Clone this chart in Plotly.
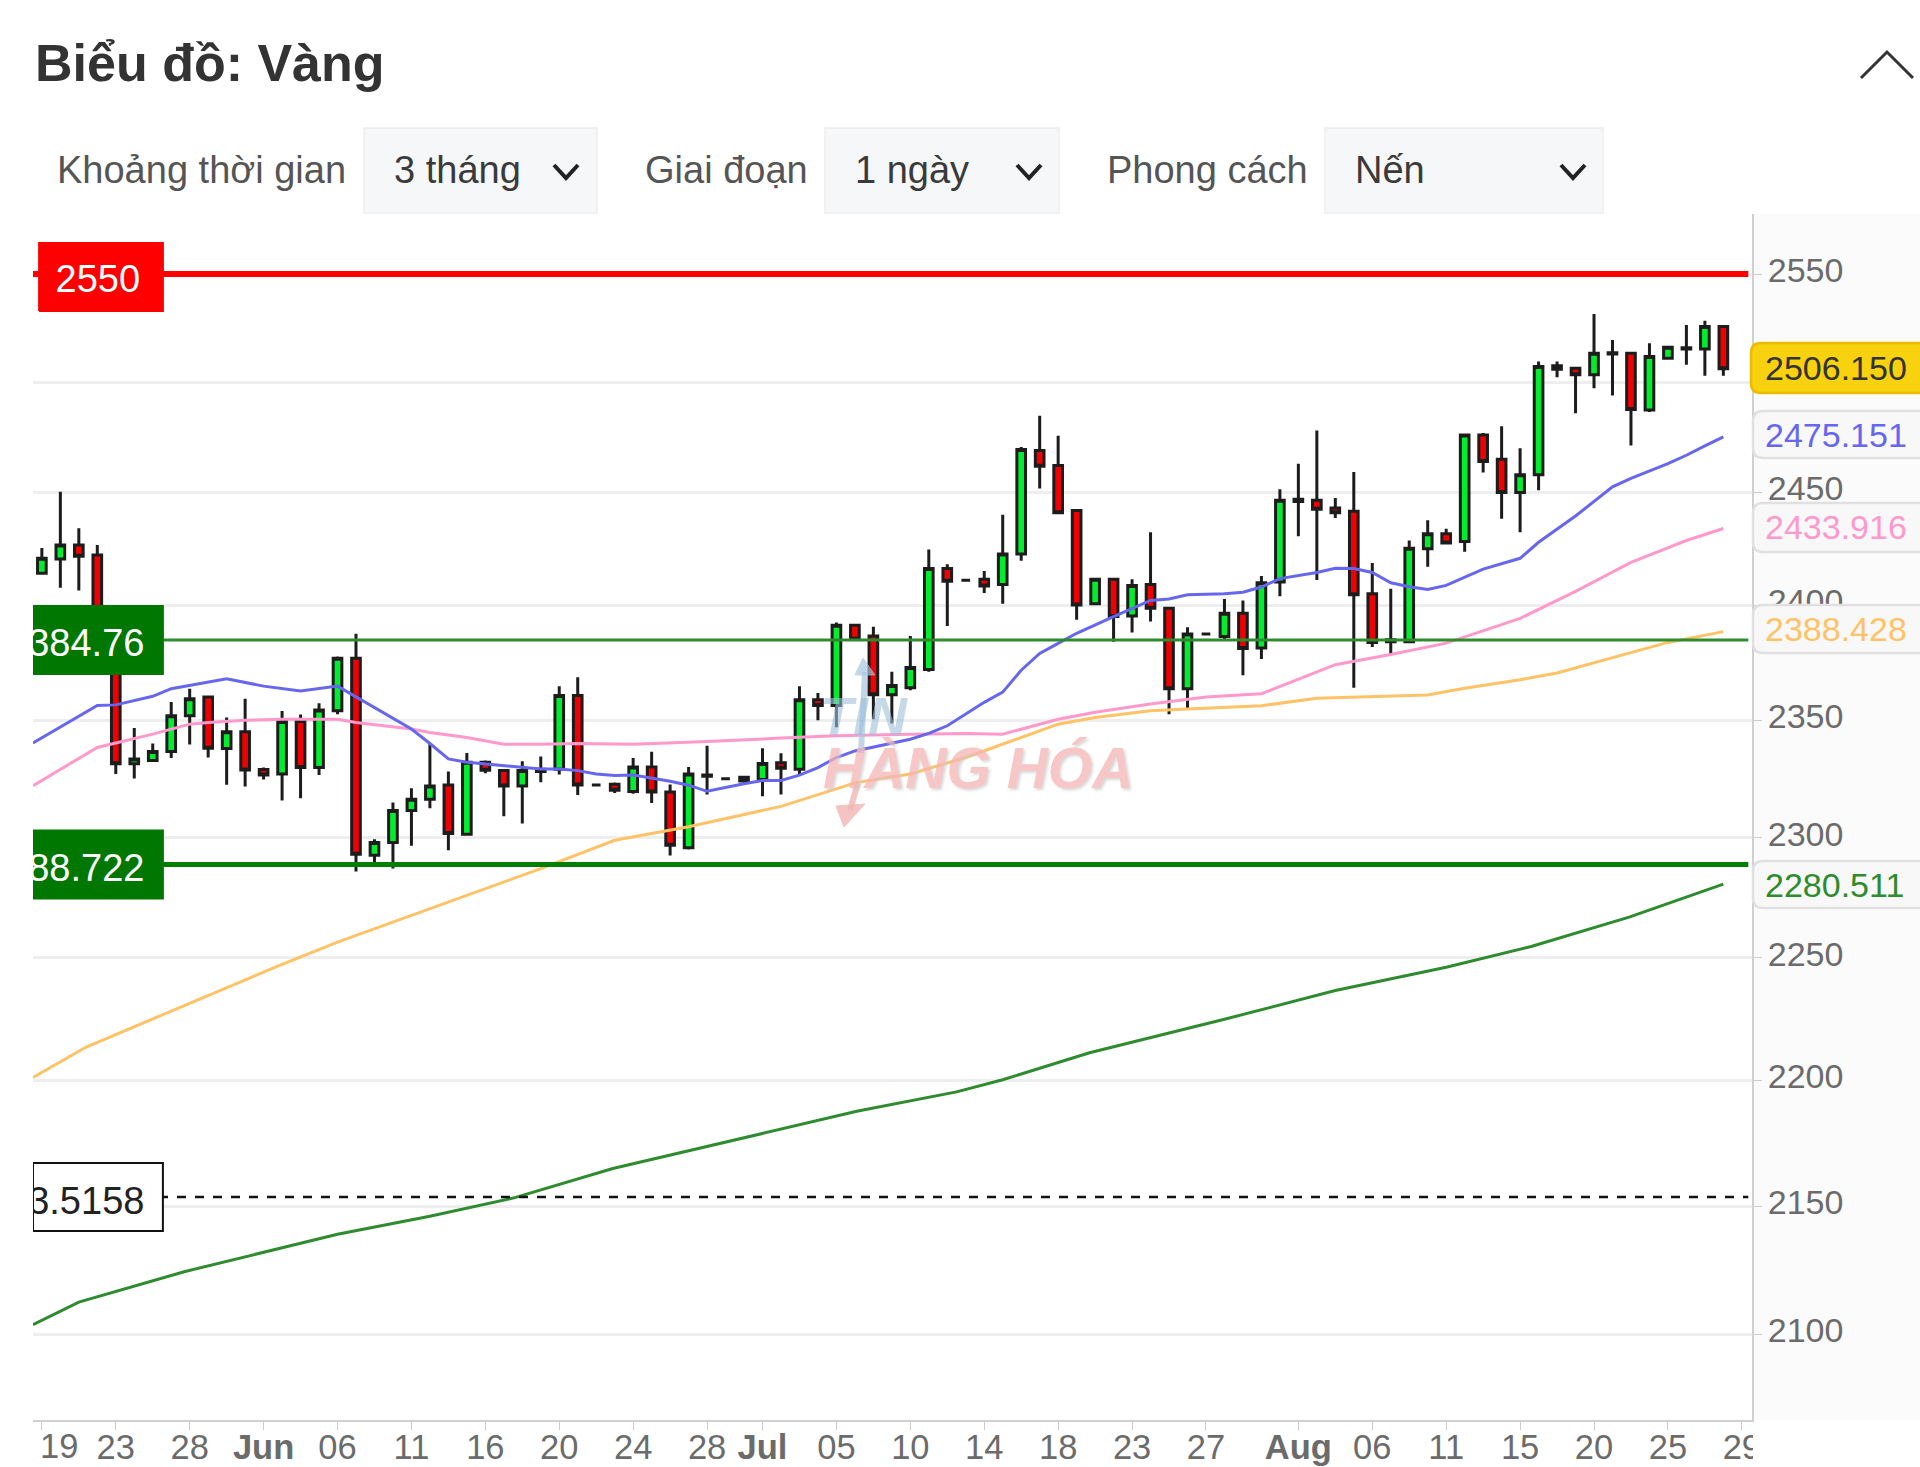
import math
import plotly.graph_objects as go

W, H = 1920, 1467
FONT = "Liberation Sans"

# candles
days = list(range(92))
opens = [2414.1, 2420.4, 2426.6, 2422.2, 2397, 2331.3, 2332.7, 2336.6, 2351.9, 2360, 2337.8, 2345, 2328.9, 2327, 2349.4, 2329.7, 2354.1, 2376.8, 2292.6, 2298, 2311.5, 2316.2, 2322.3, 2301.4, 2332, 2328.5, 2321.9, 2328, 2329, 2360.7, 2322.3, 2322.6, 2319.5, 2329.9, 2319.3, 2295.8, 2326.5, 2324.9, 2325.6, 2324.6, 2331.8, 2329, 2358.8, 2356.3, 2391.2, 2386.5, 2361, 2364, 2371.9, 2416.2, 2411, 2411.4, 2409.1, 2422.6, 2469, 2462.2, 2442, 2400.6, 2411.4, 2395.3, 2409.1, 2398.7, 2363.6, 2387.4, 2386.3, 2396.5, 2381.3, 2410.2, 2446, 2446.6, 2443.1, 2441.6, 2405, 2384, 2384, 2424.9, 2431.6, 2428.1, 2476, 2465, 2450, 2458, 2507.5, 2506.4, 2503.4, 2513, 2513.3, 2487.3, 2511, 2515.8, 2515.2, 2525.6]
highs = [2425.3, 2450.4, 2434, 2426.6, 2399, 2346.6, 2340, 2357.8, 2363.6, 2360.7, 2351.2, 2359.2, 2329.7, 2354, 2352.4, 2357.3, 2377.6, 2387.5, 2299.3, 2314.9, 2320.9, 2340.2, 2328, 2335.9, 2332.7, 2328.8, 2332.4, 2334.4, 2364.7, 2368.5, 2322.3, 2323.3, 2333.8, 2336.5, 2322.5, 2329.9, 2339, 2324.9, 2326, 2338, 2335.8, 2364.6, 2361.7, 2392.4, 2391.2, 2390.6, 2370.9, 2386.5, 2424.6, 2418.1, 2411, 2415.1, 2440.1, 2470.5, 2484.7, 2475.6, 2442, 2411.7, 2411.7, 2411.4, 2432.3, 2399.1, 2390.3, 2387.4, 2402.7, 2402.1, 2412.9, 2451.5, 2463, 2478, 2447.6, 2459.3, 2418.6, 2407.2, 2428.6, 2437.6, 2433.8, 2476.4, 2476.9, 2479.9, 2470, 2509.5, 2509.5, 2506.4, 2531.4, 2519.4, 2514, 2517.9, 2516.4, 2526.3, 2528.3, 2525.9]
lows = [2413.7, 2407.7, 2406.5, 2396, 2327, 2325, 2332.4, 2333.8, 2339.6, 2334, 2322.4, 2321.6, 2324.6, 2315.7, 2316.7, 2326.5, 2352.6, 2285.8, 2288, 2287, 2296.6, 2312.4, 2294.7, 2301, 2327.3, 2309, 2306, 2323.5, 2326.7, 2318, 2322.3, 2318.9, 2318.6, 2314.6, 2292.5, 2295, 2318.2, 2324.9, 2323.2, 2317.5, 2318.2, 2327, 2350, 2347, 2385.1, 2350.4, 2348.6, 2362.9, 2370.9, 2390.9, 2411, 2405.4, 2400.6, 2419.6, 2451.8, 2440.6, 2393.6, 2400.6, 2384, 2388, 2392.8, 2352.6, 2354.8, 2387.4, 2384.8, 2369.4, 2376.5, 2403.9, 2430.5, 2411.1, 2438.6, 2364, 2381.7, 2378.4, 2383.4, 2416.9, 2427.1, 2423.6, 2459, 2438.3, 2432.3, 2451, 2502.3, 2485.8, 2497.3, 2493.9, 2471.2, 2486.4, 2511, 2508, 2503, 2503]
closes = [2420.7, 2426.6, 2421.6, 2398, 2331.3, 2333.4, 2336.6, 2351.9, 2359.2, 2338, 2345, 2328.7, 2326.5, 2349.4, 2329.7, 2354.4, 2376.8, 2293, 2298, 2311.5, 2316.2, 2321.9, 2301.7, 2332, 2328.6, 2321.9, 2328.5, 2329, 2360.7, 2322.3, 2322.3, 2320, 2329.9, 2319.3, 2296.8, 2327, 2326, 2324.9, 2324, 2331.4, 2329.4, 2358.8, 2356.3, 2391.2, 2385.1, 2361, 2365, 2372.8, 2416.2, 2410.6, 2411, 2408.4, 2422.6, 2469.4, 2461.8, 2441, 2400.1, 2411.4, 2395, 2408.7, 2398.7, 2363.6, 2387.4, 2387.4, 2396.5, 2381.1, 2409.9, 2446.6, 2447, 2442.5, 2441, 2404.6, 2383.7, 2384.9, 2425.2, 2431.6, 2427.5, 2476, 2464, 2450, 2458, 2507.2, 2506, 2503.4, 2513.3, 2513.5, 2487.6, 2511.8, 2516.1, 2515.2, 2525.6, 2506.15]

# moving averages
blue_x = [-0.48, 3, 4, 6, 7, 8, 10, 12, 14, 16, 17, 20, 21, 22, 23, 25, 27, 28, 29, 30, 31, 32, 34, 35, 36, 38, 39, 40, 41, 42, 43, 44, 46, 47, 48, 49, 51, 52, 53, 54, 55, 56, 58, 59, 60, 61, 62, 64, 65, 66, 67, 69, 70, 71, 72, 73, 74, 75, 76, 78, 80, 81, 83, 85, 86, 88, 89, 90, 91]
blue_y = [2340.2, 2356.3, 2356.6, 2360.3, 2363.6, 2365.1, 2367.9, 2364.7, 2362.6, 2364.7, 2360, 2346.2, 2340, 2333.4, 2332, 2330.6, 2329.1, 2329.1, 2328.4, 2327, 2326.3, 2326.5, 2323.9, 2322.2, 2319.6, 2322.8, 2324.2, 2324.2, 2326.5, 2329.7, 2334, 2336.8, 2340, 2341.8, 2344.3, 2347.6, 2357.7, 2362.1, 2371.6, 2378.9, 2383.3, 2387.7, 2395, 2398.7, 2402.1, 2402.7, 2404.6, 2405, 2405.7, 2408, 2411.7, 2414.4, 2416.3, 2416.2, 2414.4, 2409.9, 2408.1, 2406.9, 2408.7, 2415.9, 2420.7, 2427.8, 2439.5, 2452.6, 2456.4, 2463, 2466.8, 2471, 2475.151]
pink_x = [-0.48, 3, 4, 6, 8, 9, 11, 13, 16, 17, 20, 21, 23, 25, 27, 29, 32, 36, 40, 43, 47, 50, 52, 55, 57, 60, 63, 66, 70, 73, 76, 80, 83, 86, 89, 91]
pink_y = [2322, 2338.3, 2340.2, 2344, 2348.3, 2349, 2350, 2350.4, 2350.4, 2349, 2346.2, 2344.7, 2342.6, 2339.7, 2339.7, 2340, 2339.7, 2340.8, 2342.3, 2343.3, 2344, 2344.3, 2344, 2350.4, 2353.4, 2357, 2360, 2361.4, 2374, 2378.4, 2383.4, 2394.2, 2406.1, 2418.9, 2428.6, 2433.916]
orange_x = [-0.48, 2.4, 12.6, 16, 27, 31, 35, 40, 44, 47, 50, 52, 55, 57, 60, 62, 66, 69, 72, 75, 77, 80, 82, 85, 88, 91]
orange_y = [2201.2, 2213.5, 2246, 2256.4, 2287, 2298.9, 2304.6, 2313.2, 2323.2, 2327, 2334, 2339.7, 2348.3, 2351.2, 2354.1, 2354.8, 2356.2, 2359.5, 2360.2, 2360.9, 2363.8, 2367.5, 2370.4, 2377, 2383.7, 2388.428]
green_x = [-0.48, 2, 7.7, 16, 21, 25.6, 30.9, 37.5, 44.1, 49.5, 52, 56.7, 64, 70, 76, 80.6, 85.9, 91]
green_y = [2103.8, 2112.5, 2124.3, 2138.9, 2146, 2153.3, 2164.8, 2176.3, 2187.6, 2195.4, 2200.3, 2211.2, 2224.8, 2236.5, 2246.1, 2254.6, 2266.8, 2280.511]

# axis ticks
y_ticks = [2100, 2150, 2200, 2250, 2300, 2350, 2400, 2450, 2500, 2550]
y_tick_text = ["2100", "2150", "2200", "2250", "2300", "2350", "2400", "2450", "", "2550"]
x_tick_pos = [0, 4, 8, 12, 16, 20, 24, 28, 32, 36, 39, 43, 47, 51, 55, 59, 63, 68, 72, 76, 80, 84, 88, 92]
x_tick_text = ["", "23", "28", "<b>Jun</b>", "06", "11", "16", "20", "24", "28", "<b>Jul</b>", "05", "10", "14", "18", "23", "27", "<b>Aug</b>", "06", "11", "15", "20", "25", "29"]

# horizontal levels
level_red = 2550
level_green_thin = 2384.76
level_green_thick = 2288.722
level_dash = 2153.5158

X_MIN, X_MAX = -0.48, 92.55
LEVEL_END = 92.35
Y_MIN, Y_MAX = 2067.4, 2578.2
PLOT_L, PLOT_R, PLOT_T, PLOT_B = 33, 1752, 214, 1420
PX_PER_LN = 5462


def px(x):
    return x / W


def py(y):
    return 1 - y / H


fig = go.Figure()

fig.add_trace(go.Candlestick(
    x=days, open=opens, high=highs, low=lows, close=closes,
    increasing=dict(fillcolor="#00ee2e", line=dict(color="#1c1c1c", width=3)),
    decreasing=dict(fillcolor="#f00000", line=dict(color="#1c1c1c", width=3)),
    whiskerwidth=0, showlegend=False,
))

for xs, ys, col in [(green_x, green_y, "#2e8b2e"), (orange_x, orange_y, "#ffc266"),
                    (pink_x, pink_y, "#ff99cc"), (blue_x, blue_y, "#6666ee")]:
    fig.add_trace(go.Scatter(x=xs, y=ys, mode="lines", line=dict(color=col, width=3), showlegend=False))


def level(y, col, width, dash="solid"):
    fig.add_trace(go.Scatter(x=[X_MIN, LEVEL_END], y=[y, y], mode="lines",
                             line=dict(color=col, width=width, dash=dash), showlegend=False))


level(level_green_thin, "#2e8b2e", 3)
level(level_green_thick, "#008000", 5)
level(level_red, "#ff0000", 6)
level(level_dash, "#111111", 2.5, "dash")


def tag(y, text, fill, txt_col, edge=None, left=X_MIN, centre=False, nudge=0, text_down=7.0):
    # box and label drawn as traces so the label clips on the plot edge, like the original
    k = math.exp(34.0 / PX_PER_LN)
    shift = math.exp(-nudge / PX_PER_LN)
    down = math.exp(-text_down / PX_PER_LN)
    right = 6.55
    lo, hi = y * shift / k, y * shift * k
    fig.add_trace(go.Scatter(
        x=[left, right, right, left, left], y=[lo, lo, hi, hi, lo],
        mode="lines", fill="toself", fillcolor=fill,
        line=dict(color=edge or fill, width=2), showlegend=False))
    fig.add_trace(go.Scatter(
        x=[3.03 if centre else 5.55], y=[y * shift * down], mode="text", text=[text],
        textposition="middle center" if centre else "middle left",
        textfont=dict(family=FONT, size=38, color=txt_col), showlegend=False))


tag(level_red, "2550", "#ff0000", "#ffffff", left=-0.15, centre=True, nudge=3, text_down=5.0)
tag(level_green_thin, "2384.76", "#007700", "#ffffff")
tag(level_green_thick, "2288.722", "#007700", "#ffffff")
tag(level_dash, "2153.5158", "#ffffff", "#222222", edge="#111111")

shapes = []
annots = []


def rect(x0, y0, x1, y1, fill, edge=None, layer="above", lw=1.5):
    shapes.append(dict(type="rect", xref="paper", yref="paper", x0=px(x0), x1=px(x1), y0=py(y0), y1=py(y1),
                       fillcolor=fill, line=dict(color=edge or fill, width=lw if edge else 0), layer=layer))


def path(pts, col, width, fill=None, opacity=1, closed=False):
    d = "M " + " L ".join(f"{px(a):.5f} {py(b):.5f}" for a, b in pts) + (" Z" if closed else "")
    shapes.append(dict(type="path", xref="paper", yref="paper", path=d, opacity=opacity,
                       fillcolor=fill or "rgba(0,0,0,0)", line=dict(color=col, width=width), layer="above"))


def pill(x0, y0, x1, y1, fill, edge, r=10):
    # right side runs off the page, only the left corners show
    d = (f"M {px(x1):.5f} {py(y0):.5f} L {px(x0 + r):.5f} {py(y0):.5f} "
         f"Q {px(x0):.5f} {py(y0):.5f} {px(x0):.5f} {py(y0 + r):.5f} "
         f"L {px(x0):.5f} {py(y1 - r):.5f} "
         f"Q {px(x0):.5f} {py(y1):.5f} {px(x0 + r):.5f} {py(y1):.5f} "
         f"L {px(x1):.5f} {py(y1):.5f} Z")
    shapes.append(dict(type="path", xref="paper", yref="paper", path=d, fillcolor=fill,
                       line=dict(color=edge, width=2.5), layer="above"))


def text(x, y, s, size, col, anchor="left", **font):
    annots.append(dict(xref="paper", yref="paper", x=px(x), y=py(y), text=s, showarrow=False,
                       xanchor=anchor, yanchor="middle", borderpad=0,
                       font=dict(family=FONT, size=size, color=col, **font)))


# axis panel
rect(PLOT_R, PLOT_T, W, PLOT_B, "#fbfbfb", layer="below")
# clip last date label at the panel edge
rect(PLOT_R + 1, PLOT_B + 2, PLOT_R + 30, H, "#ffffff")

# header
text(34, 63, "<b>Biểu đồ: Vàng</b>", 52, "#333333")
path([(1861, 78), (1887, 52), (1913, 78)], "#333333", 3)

# select controls
text(56, 170, "Khoảng thời gian", 38, "#555555")
text(644, 170, "Giai đoạn", 38, "#555555")
text(1106, 170, "Phong cách", 38, "#555555")
for x0, x1, label, chev in [(364, 597, "3 tháng", 566), (825, 1059, "1 ngày", 1029), (1325, 1603, "Nến", 1573)]:
    rect(x0, 128, x1, 213, "#f6f7f9", "#eeeeee")
    text(x0 + 29, 170, label, 38, "#3a3a3a")
    path([(chev - 12, 165), (chev, 178), (chev + 12, 165)], "#222222", 4)

# price pills
pills = [(1751, 343, 393, "#f8d10f", "#eebb00", "2506.150", "#333333"),
         (1753, 411, 458, "#f8f8f8", "#e0e0e0", "2475.151", "#6666ee"),
         (1753, 503, 552, "#f8f8f8", "#e0e0e0", "2433.916", "#ff99cc"),
         (1753, 605, 653, "#f8f8f8", "#e0e0e0", "2388.428", "#ffc266"),
         (1753, 861, 908, "#f8f8f8", "#e0e0e0", "2280.511", "#2e8b2e")]
for left, y0, y1, fill, edge, label, col in pills:
    pill(left, y0, W + 12, y1, fill, edge)
    text(1764, (y0 + y1) / 2, label, 34, col)

# watermark
path([(861, 753), (865, 672)], "#a9c6e0", 6, opacity=0.7)
path([(863, 658), (855, 675), (875, 675)], "#a9c6e0", 1, fill="#a9c6e0", opacity=0.7, closed=True)
path([(858, 783), (850, 810)], "#f4b5b5", 6, opacity=0.8)
path([(836, 806), (865, 804), (844, 827)], "#f4b5b5", 1, fill="#f4b5b5", opacity=0.8, closed=True)
annots.append(dict(xref="paper", yref="paper", x=px(864), y=py(716), text="<b><i>TIN</i></b>", showarrow=False,
                   opacity=0.6, font=dict(family=FONT, size=54, color="#9fc0dc")))
annots.append(dict(xref="paper", yref="paper", x=px(978), y=py(768), text="<b><i>HÀNG HÓA</i></b>", showarrow=False,
                   opacity=0.75, font=dict(family=FONT, size=57, color="#f5b4b4", shadow="2px 2px 3px #cccccc")))

# first date label sits right of its tick
text(59, 1446, "19", 34.5, "#6b6b6b", anchor="center")

fig.update_layout(
    width=W, height=H,
    margin=dict(l=0, r=0, t=0, b=0, pad=0),
    paper_bgcolor="#ffffff", plot_bgcolor="#ffffff",
    showlegend=False, boxgap=0.33,
    shapes=shapes, annotations=annots,
    font=dict(family=FONT, color="#6b6b6b"),
    xaxis=dict(
        domain=[px(PLOT_L), px(PLOT_R)], range=[X_MIN, X_MAX], rangeslider=dict(visible=False),
        tickmode="array", tickvals=x_tick_pos, ticktext=x_tick_text, tickangle=0, automargin=False,
        ticks="outside", ticklen=8, tickcolor="#cccccc", tickfont=dict(size=34.5, color="#6b6b6b"),
        showgrid=False, zeroline=False, showline=True, linecolor="#d0d0d0", linewidth=2,
        ticklabelstandoff=-12,
    ),
    yaxis=dict(
        domain=[py(PLOT_B), py(PLOT_T)], type="log", range=[math.log10(Y_MIN), math.log10(Y_MAX)],
        side="right", tickmode="array", tickvals=y_ticks, ticktext=y_tick_text, automargin=False,
        ticks="outside", ticklen=8, tickcolor="#cccccc", tickfont=dict(size=34, color="#6b6b6b"),
        gridcolor="#eeeeee", gridwidth=2.5, zeroline=False, showline=True, linecolor="#d0d0d0", linewidth=2,
        ticklabelstandoff=-1, ticklabelshift=-4,
    ),
)

fig.write_html("out.html", config=dict(displayModeBar=False),
               post_script="document.body.style.margin='0';")
